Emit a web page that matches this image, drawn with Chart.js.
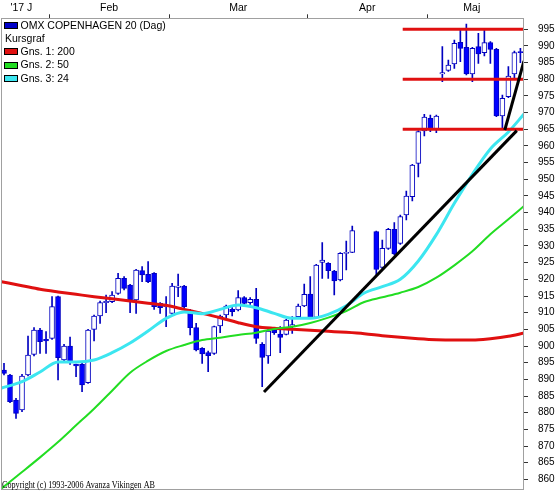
<!DOCTYPE html>
<html>
<head>
<meta charset="utf-8">
<script src="https://cdn.jsdelivr.net/npm/chart.js@4.4.1/dist/chart.umd.min.js"></script>
<style>
  html, body { margin: 0; padding: 0; background: #fff; }
  canvas { display: block; }
</style>
</head>
<body>
<canvas id="chart" width="559" height="492" style="width:559px;height:492px"></canvas>
<script>
// ------------------------------------------------------------
// DATA (one entry per weekday, 20 Jan - 22 May 2017; null = exchange closed)
// ------------------------------------------------------------
const candleOpen = [892.8,891.3,883.8,880.8,891.3,897.5,904.8,902.0,902.3,914.8,895.8,900.0,894.5,894.5,889.0,905.0,909.0,913.0,913.3,915.8,
  920.3,918.3,913.8,922.6,921.5,921.8,912.8,911.8,909.8,917.6,918.0,910.8,905.5,899.3,898.0,897.8,906.0,909.3,911.0,910.8,
  914.5,913.0,914.0,900.5,897.0,904.8,903.6,903.5,906.0,908.8,912.0,915.6,908.6,925.1,924.8,922.5,919.8,927.8,928.1,null,
  null,null,934.3,923.6,929.3,935.0,930.8,939.3,944.8,954.8,964.5,968.3,964.8,981.6,982.7,984.6,991.1,989.6,981.6,989.8,
  988.0,991.0,989.0,969.0,974.8,981.6,988.3];
const candleHigh = [894.8,891.5,884.3,891.5,903.0,905.5,905.3,904.3,914.8,915.0,900.5,902.7,894.6,895.0,905.0,909.3,913.5,915.3,916.3,921.8,
  920.8,918.5,923.0,923.8,925.3,922.0,913.0,914.8,918.8,921.6,918.2,911.0,906.8,899.5,898.5,906.0,909.3,912.3,911.5,916.6,
  914.8,914.5,917.3,901.0,905.0,905.0,905.8,908.0,908.8,912.6,918.6,920.8,924.5,931.0,925.0,922.7,928.0,931.5,936.0,null,
  null,null,934.5,931.8,935.3,937.0,939.3,946.5,954.5,964.6,969.5,969.3,969.3,989.8,985.8,991.8,995.0,996.6,989.6,993.8,
  994.8,991.3,989.3,975.3,983.8,988.5,989.3];
const candleLow = [891.3,883.0,878.3,880.3,891.0,897.0,897.8,897.8,902.0,889.8,895.5,894.5,890.8,886.3,888.8,901.5,906.8,910.0,913.0,915.5,
  916.8,910.0,909.8,919.3,919.0,911.0,909.8,905.8,909.5,914.8,911.5,903.3,898.5,894.8,892.3,897.5,904.0,907.8,909.0,910.5,
  912.0,912.5,900.8,887.8,894.8,903.5,898.0,903.3,903.8,908.5,911.8,908.3,908.3,920.3,920.3,915.3,919.5,922.8,928.0,null,
  null,null,921.3,923.3,929.0,927.3,930.5,937.8,943.5,950.7,963.0,964.3,964.0,979.3,982.4,983.3,985.3,981.3,979.3,984.8,
  987.0,984.8,968.8,965.0,974.5,980.0,985.0];
const candleClose = [891.8,883.3,879.8,891.0,897.3,904.8,901.3,901.5,911.8,896.5,900.0,895.0,894.0,888.3,904.8,909.0,913.0,913.4,915.3,920.3,
  917.3,913.8,922.8,921.3,919.3,911.8,911.5,912.2,918.0,918.0,911.8,905.5,898.8,897.6,897.1,905.8,909.0,912.0,910.3,914.5,
  912.8,914.0,902.3,896.6,904.5,904.0,902.6,907.8,906.4,912.0,915.5,908.6,924.3,925.8,922.6,919.5,927.8,928.1,934.6,null,
  null,null,923.0,929.3,935.0,927.6,938.8,945.0,954.3,964.3,968.7,964.8,969.0,982.0,984.3,990.8,989.3,981.6,989.3,987.6,
  991.0,989.0,969.0,974.3,981.0,988.0,988.0];

// moving averages, read roughly every third weekday (first/last at the plot edges)
const maIndex = [-0.4,3,6,9,12,15,18,21,24,27,30,33,36,39,42,45,48,51,54,57,60,63,66,69,72,75,78,81,84,86.6];
const ma200 = [919.3,918.1,917.0,916.2,915.5,914.8,914.2,913.5,912.8,912.2,911.0,909.8,908.5,907.0,905.8,905.3,905.0,904.7,904.4,904.1,
  903.7,903.1,902.6,902.2,901.9,901.8,901.8,902.2,902.9,903.9];
const ma50 = [857.3,862.2,866.6,871.2,876.2,881.2,886.6,892.0,895.6,898.5,900.3,901.8,902.5,903.3,904.0,905.1,905.8,906.9,908.5,910.5,
  913.2,914.6,916.0,917.7,920.5,924.2,928.4,933.5,938.0,942.0];
const ma24 = [887.4,889.3,892.2,895.2,895.2,895.8,898.0,900.9,904.5,908.3,910.2,909.7,911.0,912.3,911.5,909.8,908.3,908.3,909.5,912.1,
  915.9,917.8,920.0,925.5,933.4,942.8,951.5,959.1,964.2,969.6];

// hand-drawn trend lines and levels
const trendAIndex = [43.3, 85.4];
const trendAValue = [886.2, 964.6];
const trendBIndex = [83.4, 86.6];
const trendBValue = [964.8, 985.5];
const levelValues = [995, 980, 965];
const levelIndex = [66.4, 86.6];

// axes
const monthBoundaries = [7.5, 27.5, 50.5, 70.5];
const monthLabelPos = [2.9, 17.5, 39, 60.5, 77.9];
const monthLabels = ["'17 J", 'Feb', 'Mar', 'Apr', 'Maj'];
const yTicks = [860,865,870,875,880,885,890,895,900,905,910,915,920,925,930,935,940,945,950,955,960,965,970,975,980,985,990,995];

const legendRows = [
  { text: 'OMX COPENHAGEN 20 (Dag)', color: '#0000c8' },
  { text: 'Kursgraf', color: null },
  { text: 'Gns. 1: 200', color: '#e01010' },
  { text: 'Gns. 2: 50', color: '#22dd22' },
  { text: 'Gns. 3: 24', color: '#3ce6f0' }
];
const copyrightText = 'Copyright (c) 1993-2006 Avanza Vikingen AB';

// ------------------------------------------------------------
// BUILD
// ------------------------------------------------------------
const BLUE = '#0000ff', BLUE_DARK = '#0000c0', RED = '#e01010', GREEN = '#22dd22', CYAN = '#3ce6f0';

const bodies = [], wicks = [], bodyFill = [];
candleOpen.forEach((o, k) => {
  if (o === null) return;
  const c = candleClose[k];
  bodies.push({ x: k, y: [o, c] });
  wicks.push({ x: k, y: [candleLow[k], candleHigh[k]] });
  bodyFill.push(c < o ? BLUE : '#ffffff');
});

const toPts = (xs, ys) => xs.map((x, i) => ({ x: x, y: ys[i] }));
const lineStyle = { type: 'line', pointRadius: 0, borderCapStyle: 'butt', order: 0 };

const datasets = [
  { ...lineStyle, label: 'trendA', data: toPts(trendAIndex, trendAValue), borderColor: '#000', borderWidth: 3 },
  { ...lineStyle, label: 'trendB', data: toPts(trendBIndex, trendBValue), borderColor: '#000', borderWidth: 3 },
  ...levelValues.map(v => ({ ...lineStyle, label: 'level ' + v, data: toPts(levelIndex, [v, v]), borderColor: RED, borderWidth: 3 })),
  { ...lineStyle, label: 'Gns. 3: 24', data: toPts(maIndex, ma24), borderColor: CYAN, borderWidth: 3, cubicInterpolationMode: 'monotone' },
  { ...lineStyle, label: 'Gns. 2: 50', data: toPts(maIndex, ma50), borderColor: GREEN, borderWidth: 2, cubicInterpolationMode: 'monotone' },
  { ...lineStyle, label: 'Gns. 1: 200', data: toPts(maIndex, ma200), borderColor: RED, borderWidth: 3, cubicInterpolationMode: 'monotone' },
  { type: 'bar', label: 'body', data: bodies, backgroundColor: bodyFill, borderColor: BLUE_DARK, borderWidth: 1,
    borderSkipped: false, barThickness: 5, grouped: false, order: 1 },
  { type: 'bar', label: 'wick', data: wicks, backgroundColor: BLUE_DARK, borderWidth: 0,
    barThickness: 1, grouped: false, order: 2 }
];

// frame, legend, copyright
const decorPlugin = {
  id: 'decor',
  afterDraw(chart) {
    const { ctx, chartArea: a } = chart;
    ctx.save();
    ctx.strokeStyle = '#a0a0a0';
    ctx.lineWidth = 1;
    ctx.strokeRect(Math.round(a.left) + 0.5, Math.round(a.top) - 0.5, Math.round(a.right - a.left) - 1, Math.round(a.bottom - a.top));

    ctx.font = '10.5px "Liberation Sans", Arial, sans-serif';
    ctx.textBaseline = 'middle';
    ctx.fillStyle = '#000';
    legendRows.forEach((row, i) => {
      const yc = 25.2 + 13.3 * i;
      if (row.color) {
        ctx.fillStyle = row.color;
        ctx.fillRect(4, Math.round(yc - 3.5), 14, 7);
        ctx.strokeStyle = '#000';
        ctx.strokeRect(4.5, Math.round(yc - 3.5) + 0.5, 13, 6);
        ctx.fillStyle = '#000';
        ctx.fillText(row.text, 20.5, yc + 0.5);
      } else {
        ctx.fillText(row.text, 5, yc + 0.5);
      }
    });

    ctx.font = '10px "Liberation Serif", "Times New Roman", serif';
    ctx.textBaseline = 'alphabetic';
    ctx.fillText(copyrightText, 2, 487.5, 153);
    ctx.restore();
  }
};

Chart.defaults.font.family = '"Liberation Sans", Arial, sans-serif';
Chart.defaults.font.size = 10.5;
Chart.defaults.color = '#000';

new Chart(document.getElementById('chart'), {
  type: 'bar',
  data: { datasets },
  options: {
    responsive: false,
    devicePixelRatio: 1,
    animation: false,
    events: [],
    layout: { padding: { left: 1, top: 0, right: 0, bottom: 1.3 } },
    plugins: { legend: { display: false }, tooltip: { enabled: false } },
    scales: {
      x: {
        type: 'linear', position: 'top', min: -0.5, max: 86.6, offset: false,
        afterFit: s => { s.height = 19.3; s.paddingLeft = 0; s.paddingRight = 0; },
        afterBuildTicks: s => {
          s.ticks = monthBoundaries.concat(monthLabelPos).sort((a, b) => a - b).map(v => ({ value: v }));
        },
        ticks: {
          autoSkip: false, maxRotation: 0, padding: 0,
          callback: v => { const i = monthLabelPos.indexOf(v); return i >= 0 ? monthLabels[i] : ''; }
        },
        grid: {
          offset: false, drawOnChartArea: false, drawTicks: true, tickLength: 5,
          color: c => (c.tick && monthBoundaries.includes(c.tick.value)) ? '#333' : 'rgba(0,0,0,0)'
        },
        border: { display: false }
      },
      y: {
        type: 'linear', position: 'right', min: 856.6, max: 998,
        afterFit: s => { s.width = 35; s.paddingTop = 0; s.paddingBottom = 0; },
        afterBuildTicks: s => { s.ticks = yTicks.map(v => ({ value: v })); },
        ticks: { padding: 10, autoSkip: false, font: { size: 10 } },
        grid: { drawOnChartArea: false, drawTicks: true, tickLength: 4, color: '#333' },
        border: { display: false }
      }
    }
  },
  plugins: [decorPlugin]
});
</script>
</body>
</html>
